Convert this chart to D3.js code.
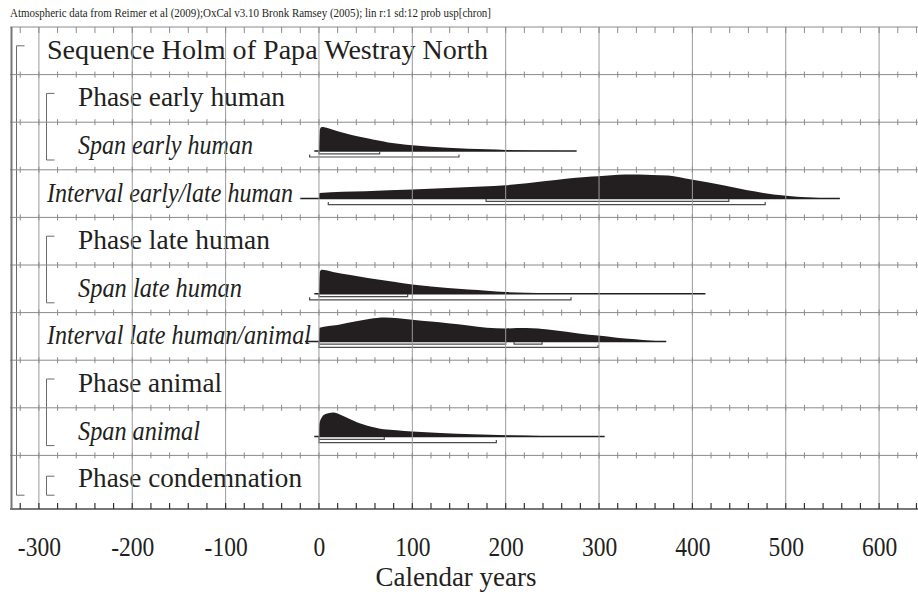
<!DOCTYPE html>
<html><head><meta charset="utf-8">
<script src="https://cdn.jsdelivr.net/npm/d3@7"></script>
<style>body{margin:0;background:#fff}svg{display:block}</style>
</head><body><svg id="c" width="918" height="594"></svg>
<script>
// ---------- DATA ----------
const titleText = "Atmospheric data from Reimer et al (2009);OxCal v3.10 Bronk Ramsey (2005); lin r:1 sd:12 prob usp[chron]";
const rowLabels = ["Sequence Holm of Papa Westray  North","Phase early human","Span early human","Interval early/late human","Phase late human","Span late human","Interval late human/animal","Phase animal","Span animal","Phase condemnation"];
const rowKinds = ["sequence","phase","span","interval","phase","span","interval","phase","span","phase"];
const tickValues = [-300,-200,-100,0,100,200,300,400,500,600];
const axisTitle = "Calendar years";

const spanEarlyYears = [0,1,3,10,20,32,45,53,65,74,87,100,120,138,160,180,200,220,240,260,276];
const spanEarlyProb  = [0,22,24.3,23,20,17,14.2,12.7,10.3,8.7,7.1,5.7,4.3,3.3,2.4,1.7,1.0,0.6,0.3,0.1,0];
const spanEarlyExtent = [-5,276];
const spanEarly68 = [[0,65]];
const spanEarly95 = [[-10,150]];

const intEarlyLateYears = [0,0.5,50,100,150,200,243,286,299,328,357,374,399,433,459,476,498,526,558];
const intEarlyLateProb  = [0,5.7,7.3,9,11,13.3,17.7,21.7,22.3,24,23.7,23,19,13.3,8.3,5.7,3,1,0];
const intEarlyLateExtent = [-20,558];
const intEarlyLate68 = [[179,439]];
const intEarlyLate95 = [[10,478]];

const spanLateYears = [0,1,3,15,32,54,80,100,120,138,160,180,200,222,245,265,290,320];
const spanLateProb  = [0,22,23.7,21.5,18.7,15.3,12,9.3,7.3,5.7,4.2,3,1.7,1.0,0.6,0.3,0.1,0];
const spanLateExtent = [-5,414];
const spanLate68 = [[0,95]];
const spanLate95 = [[-10,270]];

const intLateAnimalYears = [0,0.5,20,40,55,70,85,100,120,138,160,180,200,212,222,235,243,265,280,299,315,328,350,372];
const intLateAnimalProb  = [0,13.3,16,19.5,22,23.3,22.5,21,19.3,17.7,15.5,13.3,12.5,13,13,12.5,11.7,9.3,7.5,5.7,4,2.7,1.2,0];
const intLateAnimalExtent = [-15,372];
const intLateAnimal68 = [[0,200],[209,239]];
const intLateAnimal95 = [[0,299]];

const spanAnimalYears = [0,0.3,3,7,15,20,26,33,40,47,55,62,69,83,100,130,165,201,237,272,306];
const spanAnimalProb  = [0,12,19,22.5,24,23.2,20.7,17.5,14.7,12.3,10,8.5,7.3,6.3,5,3.7,2.3,1.3,0.7,0.3,0];
const spanAnimalExtent = [-5,306];
const spanAnimal68 = [[0,70]];
const spanAnimal95 = [[0,190]];

// ---------- LAYOUT ----------
const dists = [
  {row:2, years:spanEarlyYears, prob:spanEarlyProb, extent:spanEarlyExtent, r68:spanEarly68, r95:spanEarly95},
  {row:3, years:intEarlyLateYears, prob:intEarlyLateProb, extent:intEarlyLateExtent, r68:intEarlyLate68, r95:intEarlyLate95},
  {row:5, years:spanLateYears, prob:spanLateProb, extent:spanLateExtent, r68:spanLate68, r95:spanLate95},
  {row:6, years:intLateAnimalYears, prob:intLateAnimalProb, extent:intLateAnimalExtent, r68:intLateAnimal68, r95:intLateAnimal95},
  {row:8, years:spanAnimalYears, prob:spanAnimalProb, extent:spanAnimalExtent, r68:spanAnimal68, r95:spanAnimal95}
];
const labelWidths = [441,207,175,246,192,164,264,144,122,224];
const brackets = [
  {from:0,to:9,x:16.5,top:-5,bot:16},
  {from:1,to:2,x:46.5,top:-5,bot:14},
  {from:4,to:5,x:46.5,top:-5,bot:14},
  {from:7,to:8,x:46.5,top:-5,bot:14},
  {from:9,to:9,x:46.5,top:-3,bot:16}
];

const ink = "#231f20";
const W = 918, H = 594;
const svg = d3.select("#c");
const x = d3.scaleLinear().domain([-300,600]).range([38.9,879.1]);
const y = d3.scaleLinear().domain([0,10]).range([27,503]);
const axisY = 509;
const center = i => y(i+0.5);
const serif = "'Liberation Serif','Times New Roman',Times,serif";

// title
svg.append("text").attr("x",10).attr("y",17).attr("font-family",serif).attr("font-size",12)
  .attr("fill",ink).attr("textLength",481).attr("lengthAdjust","spacingAndGlyphs").text(titleText);

// distributions
dists.forEach(d => {
  const base = center(d.row)+5;
  const h = d3.scaleLinear().domain([0,d3.max(d.prob)]).range([base, base-24]);
  const pts = d.years.map((v,i)=>[v,d.prob[i]]);
  const area = d3.area().x(p=>x(p[0])).y0(base).y1(p=>h(p[1])).curve(d3.curveMonotoneX);
  svg.append("path").attr("d",area(pts)).attr("fill",ink);
  svg.append("line").attr("x1",x(d.extent[0])).attr("x2",x(d.extent[1])).attr("y1",base).attr("y2",base)
    .attr("stroke",ink).attr("stroke-width",1.5);
  const bar = (ranges, dy) => ranges.forEach(r => {
    const yy = base+dy;
    svg.append("path").attr("d",`M${x(r[0])},${yy-2.5}V${yy}H${x(r[1])}V${yy-2.5}`)
      .attr("fill","none").attr("stroke","#4d4d4d").attr("stroke-width",1.2);
  });
  bar(d.r68, 2.8);
  bar(d.r95, 6);
});

// labels
rowLabels.forEach((t,i) => {
  const k = rowKinds[i];
  const lx = (k==="sequence"||k==="interval") ? 47 : 78;
  svg.append("text").attr("x",lx).attr("y",center(i)+8)
    .attr("font-family",serif).attr("font-size",28)
    .attr("font-style",k==="span"||k==="interval"?"italic":"normal")
    .attr("fill",ink).attr("textLength",labelWidths[i]).attr("lengthAdjust","spacingAndGlyphs").text(t);
});

// brackets
brackets.forEach(b => {
  const t = center(b.from)+b.top, bt = center(b.to)+b.bot;
  svg.append("path").attr("d",`M${b.x+8},${t}H${b.x}V${bt}H${b.x+8}`)
    .attr("fill","none").attr("stroke","#6b6b6b").attr("stroke-width",1);
});

// grid
const g = svg.append("g");
tickValues.forEach(v => {
  g.append("line").attr("x1",x(v)).attr("x2",x(v)).attr("y1",27).attr("y2",axisY)
    .attr("stroke","#9a9a9a").attr("stroke-width",1);
});
const minor = d3.range(-320, 641, 20);
for (let k=0;k<=9;k++){
  const yy = y(k);
  g.append("line").attr("x1",10).attr("x2",W).attr("y1",yy).attr("y2",yy).attr("stroke","#8a8a8a").attr("stroke-width",1);
  minor.forEach(v => {
    g.append("line").attr("x1",x(v)).attr("x2",x(v))
      .attr("y1",k===0?yy:yy-3).attr("y2",yy+(k===0?6:3))
      .attr("stroke","#8a8a8a").attr("stroke-width",1);
  });
}
// left frame
g.append("line").attr("x1",11.5).attr("x2",11.5).attr("y1",27).attr("y2",axisY).attr("stroke","#777").attr("stroke-width",2);
// axis line + ticks
g.append("line").attr("x1",10).attr("x2",W).attr("y1",axisY).attr("y2",axisY).attr("stroke","#777").attr("stroke-width",2);
minor.forEach(v => {
  g.append("line").attr("x1",x(v)).attr("x2",x(v)).attr("y1",axisY-6).attr("y2",axisY)
    .attr("stroke","#333").attr("stroke-width",1.2);
});

// axis labels via d3 axis
const ax = svg.append("g").attr("transform",`translate(0,${axisY})`)
  .call(d3.axisBottom(x).tickValues(tickValues).tickSize(0).tickPadding(0).tickFormat(d=>String(d)));
ax.select(".domain").remove();
ax.selectAll("text").attr("font-family",serif).attr("font-size",28).attr("fill",ink)
  .attr("dy",null).attr("y",47)
  .each(function(){ const w=this.getComputedTextLength(); d3.select(this).attr("textLength",w*0.84).attr("lengthAdjust","spacingAndGlyphs"); });

svg.append("text").attr("x",456).attr("y",586).attr("text-anchor","middle")
  .attr("font-family",serif).attr("font-size",27).attr("fill",ink)
  .attr("textLength",161).attr("lengthAdjust","spacingAndGlyphs").text(axisTitle);
</script>
</body></html>
